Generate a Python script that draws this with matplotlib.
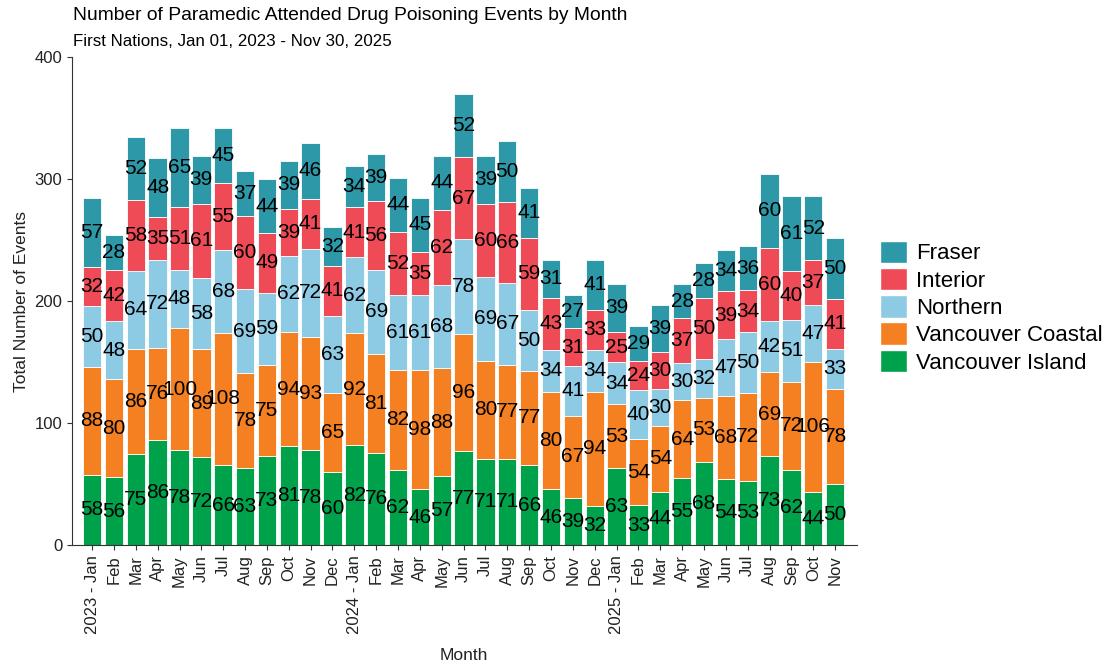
import numpy as np
import matplotlib
matplotlib.use("Agg")
import matplotlib.pyplot as plt
from matplotlib.patches import Patch

plt.rcParams['font.family'] = ['Liberation Sans', 'DejaVu Sans']

# Data (Jan 2023 - Nov 2025)
months = ['2023 - Jan', 'Feb', 'Mar', 'Apr', 'May', 'Jun', 'Jul', 'Aug', 'Sep', 'Oct', 'Nov', 'Dec',
          '2024 - Jan', 'Feb', 'Mar', 'Apr', 'May', 'Jun', 'Jul', 'Aug', 'Sep', 'Oct', 'Nov', 'Dec',
          '2025 - Jan', 'Feb', 'Mar', 'Apr', 'May', 'Jun', 'Jul', 'Aug', 'Sep', 'Oct', 'Nov']

vancouver_island = [58, 56, 75, 86, 78, 72, 66, 63, 73, 81, 78, 60,
                    82, 76, 62, 46, 57, 77, 71, 71, 66, 46, 39, 32,
                    63, 33, 44, 55, 68, 54, 53, 73, 62, 44, 50]
vancouver_coastal = [88, 80, 86, 76, 100, 89, 108, 78, 75, 94, 93, 65,
                     92, 81, 82, 98, 88, 96, 80, 77, 77, 80, 67, 94,
                     53, 54, 54, 64, 53, 68, 72, 69, 72, 106, 78]
northern = [50, 48, 64, 72, 48, 58, 68, 69, 59, 62, 72, 63,
            62, 69, 61, 61, 68, 78, 69, 67, 50, 34, 41, 34,
            34, 40, 30, 30, 32, 47, 50, 42, 51, 47, 33]
interior = [32, 42, 58, 35, 51, 61, 55, 60, 49, 39, 41, 41,
            41, 56, 52, 35, 62, 67, 60, 66, 59, 43, 31, 33,
            25, 24, 30, 37, 50, 39, 34, 60, 40, 37, 41]
fraser = [57, 28, 52, 48, 65, 39, 45, 37, 44, 39, 46, 32,
          34, 39, 44, 45, 44, 52, 39, 50, 41, 31, 27, 41,
          39, 29, 39, 28, 28, 34, 36, 60, 61, 52, 50]

# stacking order bottom -> top
series = [('Vancouver Island', vancouver_island, '#00A14B'),
          ('Vancouver Coastal', vancouver_coastal, '#F58021'),
          ('Northern', northern, '#8DCAE4'),
          ('Interior', interior, '#EF4B57'),
          ('Fraser', fraser, '#2C98A8')]

fig = plt.figure(figsize=(11.16, 6.65), dpi=100)
ax = fig.add_axes([0.0645, 0.180, 0.703, 0.734])

x = np.arange(len(months))
bottom = np.zeros(len(months))
for name, vals, col in series:
    vals = np.array(vals)
    ax.bar(x, vals, bottom=bottom, width=0.84, color=col,
           edgecolor='white', linewidth=0.6)
    for xi, b, v in zip(x, bottom, vals):
        ax.text(xi, b + v / 2, str(v), ha='center', va='center',
                fontsize=15, color='black')
    bottom += vals

ax.set_xlim(-0.92, len(months) - 0.02)
ax.set_ylim(0, 400)
ax.set_yticks([0, 100, 200, 300, 400])
ax.set_xticks(x)
ax.set_xticklabels(months, rotation=90, fontsize=12, color='#222222')
ax.tick_params(axis='y', labelsize=12, labelcolor='#222222', color='#333333')
ax.tick_params(axis='x', color='#333333')

for s in ['top', 'right']:
    ax.spines[s].set_visible(False)
for s in ['left', 'bottom']:
    ax.spines[s].set_color('#333333')

ax.set_ylabel('Total Number of Events', fontsize=12.5, color='#222222')
ax.set_xlabel('Month', fontsize=12.5, color='#222222', labelpad=10)

fig.text(0.0655, 0.977, 'Number of Paramedic Attended Drug Poisoning Events by Month',
         fontsize=13.9, va='center', ha='left')
fig.text(0.0655, 0.937, 'First Nations, Jan 01, 2023 - Nov 30, 2025',
         fontsize=12.2, va='center', ha='left')

handles = [Patch(facecolor=col, edgecolor='white', label=name)
           for name, vals, col in series[::-1]]
fig.legend(handles=handles, loc='upper left', bbox_to_anchor=(0.779, 0.655),
           frameon=False, fontsize=16, handlelength=1.18, handleheight=1.18,
           handletextpad=0.42, labelspacing=0.16, borderpad=0)

fig.savefig('out.png', dpi=100)
